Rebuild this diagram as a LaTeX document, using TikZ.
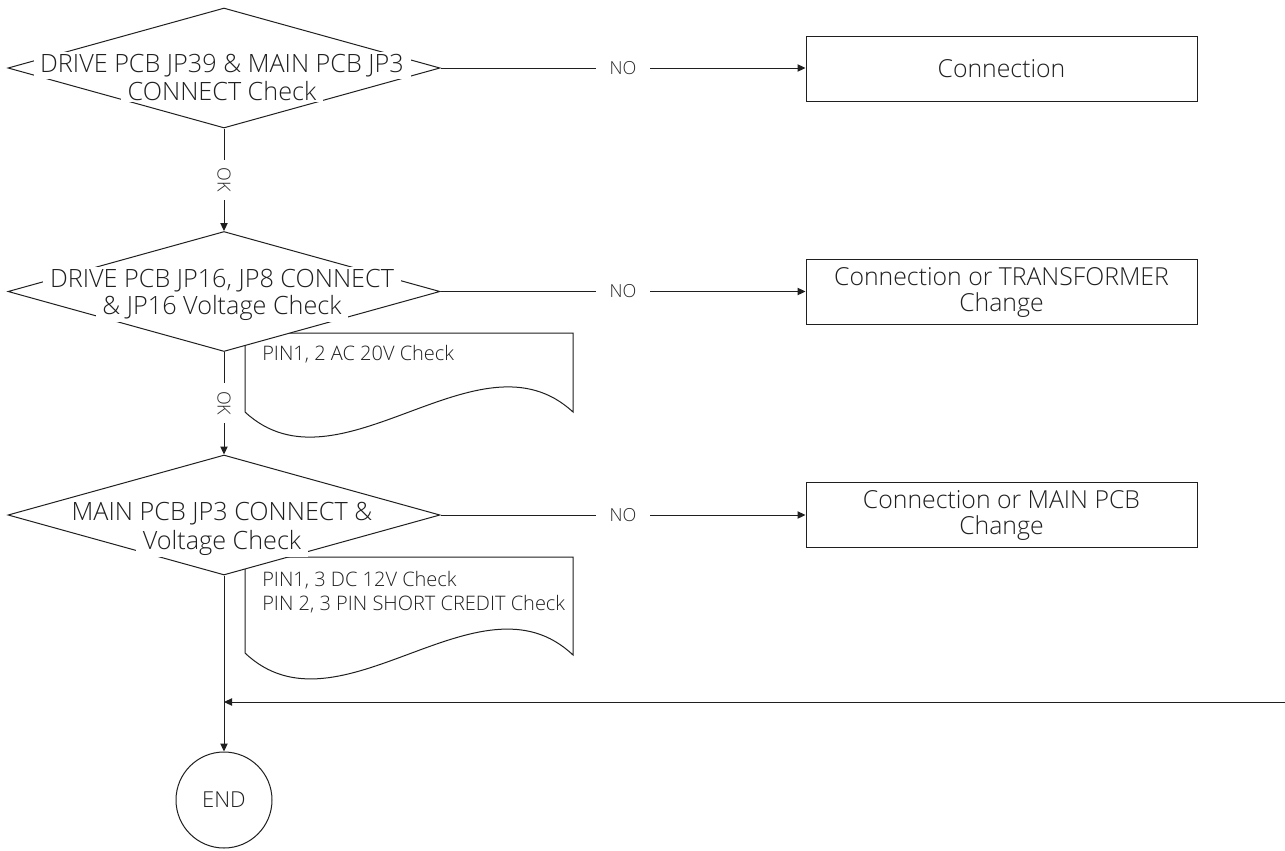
\documentclass[tikz,border=0pt]{standalone}
\usepackage{fontspec}
\setmainfont{Open Sans}[UprightFont={* Light}]
\usetikzlibrary{shapes.geometric,arrows.meta}
\begin{document}
\begin{tikzpicture}[x=0.75pt,y=-0.75pt,
  line/.style={draw=black!88, line width=0.75pt},
  arr/.style={line, -{Triangle[length=6pt,width=5.5pt]}},
  dec/.style={diamond, draw=black!88, line width=0.75pt, fill=white, inner sep=0pt, minimum width=324pt, minimum height=90pt},
  dtext/.style={fill=white, text=black!88, inner xsep=5pt, inner ysep=1.5pt, anchor=base, font=\fontsize{18.9}{20}\selectfont},
  box/.style={draw=black!88, line width=0.75pt, rectangle, minimum width=293.25pt, minimum height=48.75pt, align=center, text=black!88, font=\fontsize{18.6}{19.5}\selectfont},
  nolbl/.style={fill=white, text=black!85, inner xsep=10pt, inner ysep=1pt, font=\fontsize{13.5}{16}\selectfont},
  oklbl/.style={fill=white, text=black!85, inner xsep=6pt, inner ysep=1pt, rotate=-90, font=\fontsize{13.5}{16}\selectfont},
  endc/.style={circle, draw=black!88, line width=0.75pt, minimum size=72pt, inner sep=0pt, text=black!88, font=\fontsize{16.5}{18}\selectfont},
  note/.style={inner sep=0pt, align=left, text=black!88, font=\fontsize{15}{18}\selectfont}
]
\fill[white] (0,0) rectangle (1285,850);
\useasboundingbox (0,0) rectangle (1285,850);

% document shapes (drawn first, diamonds cover them)
\draw[line] (245,333) -- (573,333) -- (573,412) .. controls (479,325) and (339,499) .. (245,412) -- cycle;
\draw[line] (245,557) -- (573,557) -- (573,655) .. controls (479,566) and (339,742) .. (245,653) -- cycle;
\node[note, anchor=base west] (n2) at (262,360) {PIN1, 2 AC 20V Check};
\node[note, anchor=north west] (n3) at (262,571) {PIN1, 3 DC 12V Check\\PIN 2, 3 PIN SHORT CREDIT Check};

% decisions
\node[dec] (d1) at (224,68) {};
\node[dec] (d2) at (224,291.5) {};
\node[dec] (d3) at (224,515) {};
\node[dtext] (d1a) at (222,72) {DRIVE PCB JP39 \& MAIN PCB JP3};
\node[dtext] (d1b) at (222,100) {CONNECT Check};
\node[dtext] (d2a) at (222,287) {DRIVE PCB JP16, JP8 CONNECT};
\node[dtext] (d2b) at (222,314) {\& JP16 Voltage Check};
\node[dtext] (d3a) at (222,520) {MAIN PCB JP3 CONNECT \&};
\node[dtext] (d3b) at (222,549) {Voltage Check};

% result boxes
\node[box] (b1) at (1001.5,69) {Connection};
\node[box] (b2) at (1001.5,292) {Connection or TRANSFORMER\\Change};
\node[box] (b3) at (1001.5,515) {Connection or MAIN PCB\\Change};

% end
\node[endc] (endn) at (224,800) {END};

% connectors
\draw[arr] (d1.east) -- node[nolbl]{NO} (d1.east -| b1.west);
\draw[arr] (d2.east) -- node[nolbl]{NO} (d2.east -| b2.west);
\draw[arr] (d3.east) -- node[nolbl]{NO} (d3.east -| b3.west);
\draw[arr] (d1.south) -- node[oklbl]{OK} (d2.north);
\draw[arr] (d2.south) -- node[oklbl]{OK} (d3.north);
\draw[arr] (d3.south) -- (endn.north);
\coordinate (rin) at (1285,702);
\draw[arr] (rin) -- (rin -| endn.north);
\end{tikzpicture}
\end{document}
